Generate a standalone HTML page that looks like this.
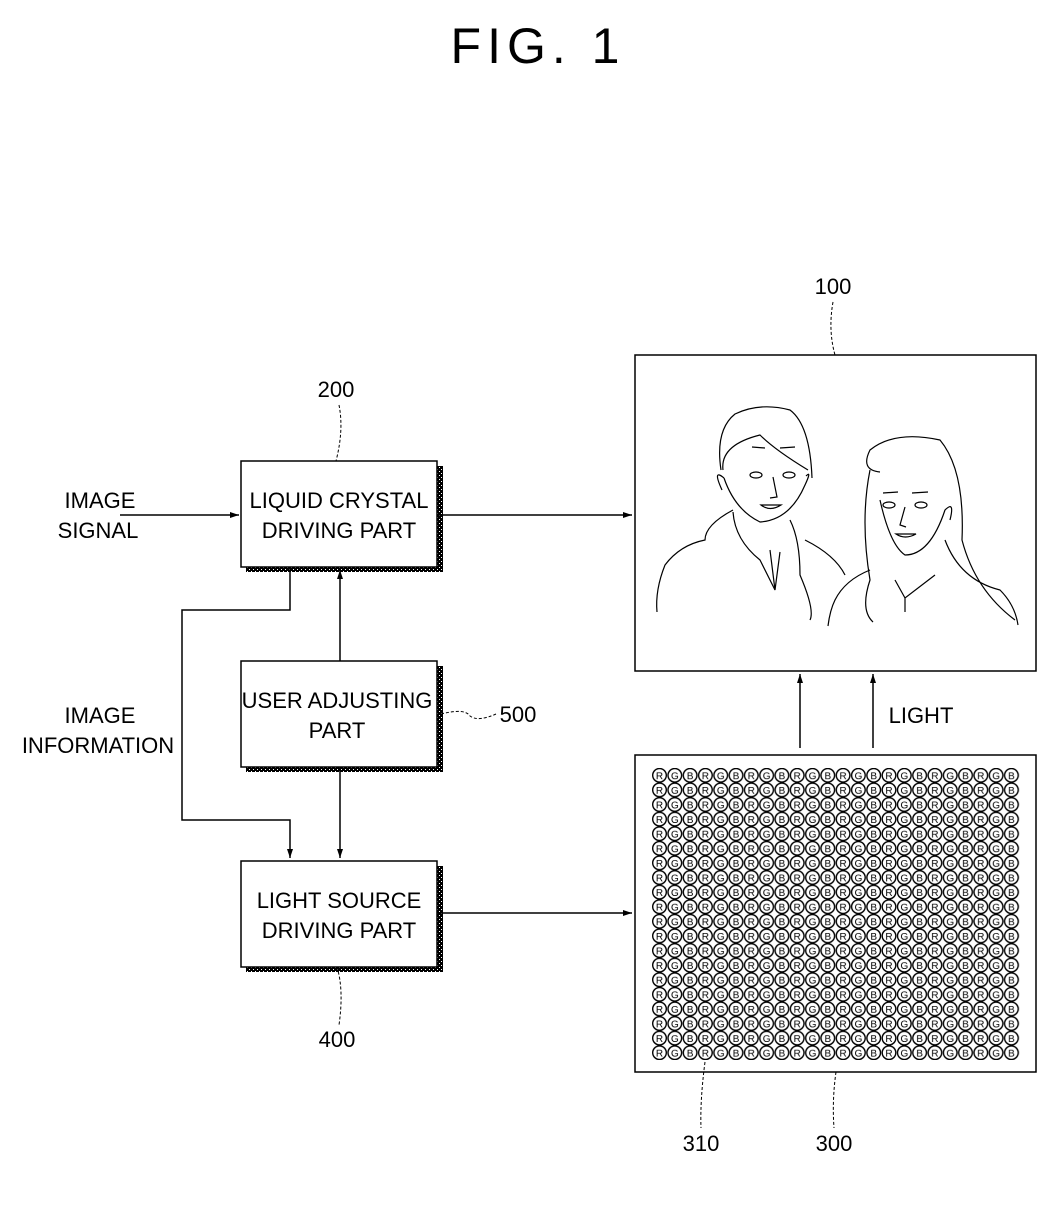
<!DOCTYPE html>
<html><head><meta charset="utf-8"><style>
html,body{margin:0;padding:0;background:#fff;}
svg{display:block;}
text{font-family:"Liberation Sans",sans-serif;fill:#000;}
</style></head><body>
<svg width="1063" height="1217" viewBox="0 0 1063 1217" xmlns="http://www.w3.org/2000/svg">
<defs>
<marker id="ar" markerWidth="10" markerHeight="8" refX="9" refY="4" orient="auto" markerUnits="userSpaceOnUse">
<path d="M0,1 L9,4 L0,7 Z" fill="#000"/></marker>
<pattern id="dots" x="0" y="0" width="4" height="4" patternUnits="userSpaceOnUse">
<rect width="4" height="4" fill="#000"/><rect x="1" y="1" width="1" height="1" fill="#fff"/><rect x="3" y="3" width="1" height="1" fill="#fff"/></pattern>
<pattern id="leds" x="652" y="768" width="45.9" height="14.6" patternUnits="userSpaceOnUse">
<circle cx="7.5" cy="7.3" r="6.8" fill="#fff" stroke="#000" stroke-width="1.4"/>
<circle cx="22.8" cy="7.3" r="6.8" fill="#fff" stroke="#000" stroke-width="1.4"/>
<circle cx="38.1" cy="7.3" r="6.8" fill="#fff" stroke="#000" stroke-width="1.4"/>
<text x="7.5" y="11" font-size="10" text-anchor="middle">R</text>
<text x="22.8" y="11" font-size="10" text-anchor="middle">G</text>
<text x="38.1" y="11" font-size="10" text-anchor="middle">B</text>
</pattern>
</defs>

<text x="538" y="63" font-size="50" text-anchor="middle" letter-spacing="6">FIG. 1</text>

<!-- shadows -->
<rect x="246" y="466" width="197" height="106" fill="url(#dots)"/>
<rect x="246" y="666" width="197" height="106" fill="url(#dots)"/>
<rect x="246" y="866" width="197" height="106" fill="url(#dots)"/>
<g fill="#fff" stroke="#000" stroke-width="1.5">
<rect x="241" y="461" width="196" height="106"/>
<rect x="241" y="661" width="196" height="106"/>
<rect x="241" y="861" width="196" height="106"/>
<rect x="635" y="355" width="401" height="316"/>
<rect x="635" y="755" width="401" height="317"/>
</g>
<g font-size="22" text-anchor="middle">
<text x="339" y="508">LIQUID CRYSTAL</text>
<text x="339" y="538">DRIVING PART</text>
<text x="337" y="708">USER ADJUSTING</text>
<text x="337" y="738">PART</text>
<text x="339" y="908">LIGHT SOURCE</text>
<text x="339" y="938">DRIVING PART</text>
<text x="100" y="508">IMAGE</text>
<text x="98" y="538">SIGNAL</text>
<text x="100" y="723">IMAGE</text>
<text x="98" y="753">INFORMATION</text>
<text x="921" y="723">LIGHT</text>
</g>
<g font-size="22" text-anchor="middle">
<text x="336" y="397">200</text>
<text x="833" y="294">100</text>
<text x="518" y="722">500</text>
<text x="337" y="1047">400</text>
<text x="701" y="1151">310</text>
<text x="834" y="1151">300</text>
</g>
<g fill="none" stroke="#000" stroke-width="1" stroke-dasharray="3,2">
<path d="M339,405 Q344,430 336,461"/>
<path d="M833,302 Q828,330 835,355"/>
<path d="M441,714 Q465,708 470,716 Q478,722 496,714"/>
<path d="M337,967 Q344,990 339,1025"/>
<path d="M705,1062 Q700,1100 701,1128"/>
<path d="M836,1072 Q832,1100 834,1128"/>
</g>
<!-- connectors -->
<g fill="none" stroke="#000" stroke-width="1.5">
<line x1="120" y1="515" x2="239" y2="515" marker-end="url(#ar)"/>
<line x1="437" y1="515" x2="632" y2="515" marker-end="url(#ar)"/>
<polyline points="290,567 290,610 182,610 182,820 290,820 290,858" marker-end="url(#ar)"/>
<line x1="340" y1="661" x2="340" y2="570" marker-end="url(#ar)"/>
<line x1="340" y1="767" x2="340" y2="858" marker-end="url(#ar)"/>
<line x1="437" y1="913" x2="632" y2="913" marker-end="url(#ar)"/>
<line x1="800" y1="748" x2="800" y2="674" marker-end="url(#ar)"/>
<line x1="873" y1="748" x2="873" y2="674" marker-end="url(#ar)"/>
</g>
<!-- LED grid -->
<rect x="652" y="768" width="367.2" height="292" fill="url(#leds)"/>
<!-- people -->
<g fill="none" stroke="#000" stroke-width="1.2">
<path d="M721,470 Q715,430 735,414 Q760,402 790,410 Q810,425 812,478"/>
<path d="M723,470 Q720,445 760,435 Q775,450 808,470"/>
<path d="M724,478 Q735,510 760,522 Q790,520 805,485 Q812,470 806,476"/>
<path d="M724,478 Q712,468 722,490"/>
<path d="M752,447 L765,448 M780,448 L795,447"/>
<ellipse cx="756" cy="475" rx="6" ry="3"/><ellipse cx="789" cy="475" rx="6" ry="3"/>
<path d="M773,477 L777,497 L770,498"/>
<path d="M761,505 Q770,512 781,505 Z"/>
<path d="M733,510 Q705,525 705,540 Q680,545 665,565 Q655,590 657,612"/>
<path d="M733,512 Q735,540 760,560 L775,590 M790,520 Q800,540 800,575 Q815,610 810,620"/>
<path d="M770,550 L775,590 L780,552"/>
<path d="M805,540 Q835,555 845,575"/>
<path d="M880,472 Q860,470 870,450 Q895,430 940,440 Q965,470 962,540 Q975,590 1015,620"/>
<path d="M870,470 Q860,520 870,580 Q860,610 873,622"/>
<path d="M880,500 Q890,545 905,555 Q930,555 945,510 Q955,500 950,520"/>
<path d="M883,493 L898,492 M912,493 L928,492"/>
<ellipse cx="889" cy="505" rx="6" ry="3"/><ellipse cx="921" cy="505" rx="6" ry="3"/>
<path d="M905,507 L900,525 L906,527"/>
<path d="M896,534 Q905,540 916,534 Z"/>
<path d="M870,570 Q845,580 835,600 Q830,610 828,626"/>
<path d="M895,580 L905,598 L935,575 M905,598 L905,612"/>
<path d="M945,540 Q960,580 1000,590 Q1015,605 1018,625"/>
</g>
</svg>
</body></html>
